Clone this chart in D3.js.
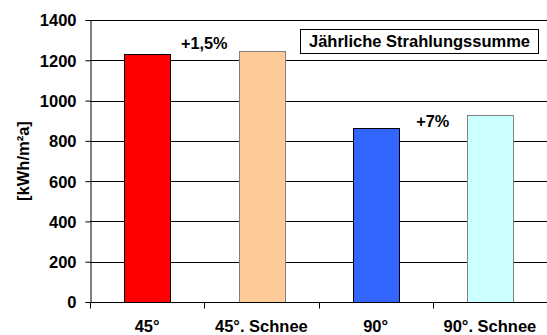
<!DOCTYPE html>
<html><head><meta charset="utf-8">
<script src="https://cdn.jsdelivr.net/npm/d3@7"></script>
<style>body{margin:0;background:#fff}svg{display:block}</style>
</head><body>
<script>
const categories = ["45°", "45°. Schnee", "90°", "90°. Schnee"];
const values = [1230, 1248, 864, 928];
const barColors = ["#FF0000", "#FFCC99", "#3366FF", "#CCFFFF"];
const barStrokes = ["#000000", "#808080", "#000000", "#808080"];
const yTicks = [0, 200, 400, 600, 800, 1000, 1200, 1400];
const annotationTexts = ["+1,5%", "+7%"];
const annotationPairs = [[0, 1], [2, 3]];
const annotationValues = [1256, 871];
const yTitle = "[kWh/m²a]";
const legendTitle = "Jährliche Strahlungssumme";

const FONT = "'Liberation Sans', Arial, sans-serif";
const W = 547, H = 335;
const m = {left: 90, right: 0, top: 20, bottom: 33};
const svg = d3.select("body").append("svg").attr("width", W).attr("height", H)
  .attr("font-family", FONT).attr("font-weight", "bold");

const x = d3.scaleBand().domain(categories).range([m.left, W - m.right]).paddingInner(0.6).paddingOuter(0.3);
const y = d3.scaleLinear().domain([0, 1400]).range([H - m.bottom, m.top]);
const px = v => Math.round(v) + 0.5;

// gridlines
svg.append("g").selectAll("line").data(yTicks).join("line")
  .attr("x1", m.left).attr("x2", W).attr("y1", d => px(y(d))).attr("y2", d => px(y(d)))
  .attr("stroke", "#000").attr("stroke-width", 1);

// bars
svg.append("g").selectAll("rect").data(values).join("rect")
  .attr("x", (d, i) => px(x(categories[i])))
  .attr("y", d => px(y(d)))
  .attr("width", Math.round(x.bandwidth()))
  .attr("height", d => Math.round(y(0)) - Math.round(y(d)))
  .attr("fill", (d, i) => barColors[i])
  .attr("stroke", (d, i) => barStrokes[i]).attr("stroke-width", 1);

// y axis
const ya = svg.append("g").attr("transform", `translate(${m.left + 0.5},0)`)
  .call(d3.axisLeft(y).tickValues(yTicks).tickSize(5).tickPadding(9).tickFormat(d3.format("d")));
ya.attr("font-family", FONT).attr("font-size", 16.5).attr("font-weight", "bold");
ya.select(".domain").attr("stroke", "#000");
ya.selectAll("line").attr("stroke", "#000");
ya.selectAll("text").attr("fill", "#000").attr("dy", "0.36em");

// x axis
const step = x.step();
const xa = svg.append("g").attr("transform", `translate(0,${px(y(0))})`);
xa.append("line").attr("x1", m.left).attr("x2", W).attr("stroke", "#000");
const boundaries = d3.range(categories.length + 1).map(i => x(categories[0]) - (step - x.bandwidth()) / 2 + i * step);
xa.selectAll("line.t").data(boundaries).join("line").attr("class", "t")
  .attr("x1", d => px(d)).attr("x2", d => px(d)).attr("y1", 0).attr("y2", 6).attr("stroke", "#000");
xa.selectAll("text").data(categories).join("text")
  .attr("x", d => x(d) + x.bandwidth() / 2).attr("y", 29)
  .attr("text-anchor", "middle").attr("font-size", 16.5).attr("fill", "#000").text(d => d);

// y title
svg.append("text").attr("transform", `translate(29,${(m.top + H - m.bottom) / 2}) rotate(-90)`)
  .attr("text-anchor", "middle").attr("font-size", 16.5).attr("fill", "#000").text(yTitle);

// annotations
svg.append("g").selectAll("text").data(annotationTexts).join("text")
  .attr("x", (d, i) => (x(categories[annotationPairs[i][0]]) + x(categories[annotationPairs[i][1]]) + x.bandwidth()) / 2)
  .attr("y", (d, i) => y(annotationValues[i]))
  .attr("text-anchor", "middle").attr("font-size", 16.3).attr("fill", "#000").text(d => d);

// legend box
const lg = svg.append("g");
lg.append("rect").attr("x", 300.5).attr("y", 29.5).attr("width", 238).attr("height", 24)
  .attr("fill", "#fff").attr("stroke", "#000");
lg.append("text").attr("x", 419.5).attr("y", 47).attr("text-anchor", "middle").attr("font-size", 16.5).attr("fill", "#000").text(legendTitle);
</script>
</body></html>
